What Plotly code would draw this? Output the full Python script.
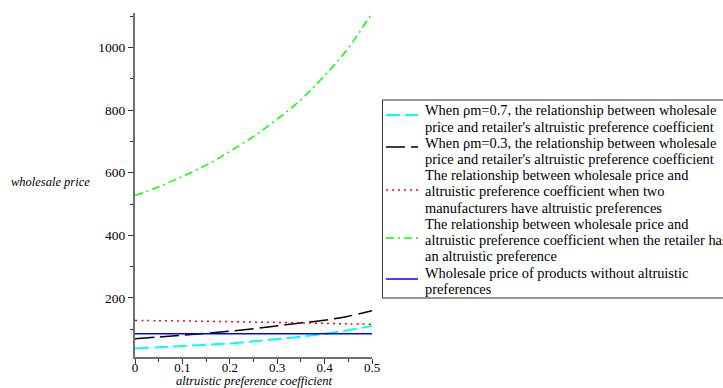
import plotly.graph_objects as go

# Altruistic preference coefficient (x) and wholesale prices for each scenario
coef = [0.0, 0.05, 0.10, 0.15, 0.20, 0.25, 0.30, 0.35, 0.40, 0.45, 0.50]
price_pm07 = [39, 42.5, 46.5, 50.5, 55, 61.5, 69, 76.5, 86, 97, 111]
price_pm03 = [70, 75.5, 81, 87, 94, 102, 111, 120.5, 129, 142, 159]
price_two_manuf = [128.5, 127.5, 126.5, 125.5, 124.5, 123, 122, 120.5, 119, 117.5, 116]
price_retailer = [527, 555, 588, 624, 668, 716, 771, 833, 910, 998, 1110]
price_no_altruism = [86, 86, 86, 86, 86, 86, 86, 86, 86, 86, 86]

x_ticks = [0, 0.1, 0.2, 0.3, 0.4, 0.5]
x_tick_text = ["0", "0.1", "0.2", "0.3", "0.4", "0.5"]
y_ticks = [200, 400, 600, 800, 1000]
y_tick_text = ["200", "400", "600", "800", "1000"]

legend_lines = [
    ["When \u03c1m=0.7, the relationship between wholesale",
     "price and retailer's altruistic preference coefficient"],
    ["When \u03c1m=0.3, the relationship between wholesale",
     "price and retailer's altruistic preference coefficient"],
    ["The relationship between wholesale price and",
     "altruistic preference coefficient when two",
     "manufacturers have altruistic preferences"],
    ["The relationship between wholesale price and",
     "altruistic preference coefficient when the retailer has",
     "an altruistic preference"],
    ["Wholesale price of products without altruistic",
     "preferences"],
]

series = [price_pm07, price_pm03, price_two_manuf, price_retailer, price_no_altruism]
colors = ["#00FFFF", "#000000", "#FF0000", "#00FF00", "#0000FF"]
dashes = ["14px,5px", "19px,6px", "2px,4px", "8px,4px,2px,4px", "solid"]
widths = [2, 1.5, 1.5, 1.5, 1.5]

SERIF = "Liberation Serif, Times New Roman, serif"
W, H = 723, 388
L, R, T, B = 135, 351, 13, 31
PW, PH = W - L - R, H - T - B


def px_x(px):
    return (px - L) / PW


def px_y(py):
    return (H - B - py) / PH


fig = go.Figure()
for vals, col, dsh, wd, lines in zip(series, colors, dashes, widths, legend_lines):
    fig.add_trace(go.Scatter(
        x=coef, y=vals, mode="lines", name=" ".join(lines),
        line=dict(color=col, dash=dsh, width=wd, shape="spline"),
        showlegend=False,
    ))

annotations = []
shapes = []

# Legend frame
shapes.append(dict(type="rect", xref="paper", yref="paper",
                   x0=px_x(382.5), x1=px_x(745), y0=px_y(100), y1=px_y(298),
                   line=dict(color="#333333", width=1), fillcolor="white", layer="above"))

# Legend text lines and symbols
symbol_y = [115, 147, 190, 238, 279]
line_y0, line_step = 110.5, 16.2
k = 0
for i, lines in enumerate(legend_lines):
    for ln in lines:
        annotations.append(dict(
            x=px_x(423), y=px_y(line_y0 + k * line_step), xref="paper", yref="paper",
            text=ln, showarrow=False, xanchor="left", yanchor="middle",
            font=dict(family=SERIF, size=14.4, color="black"),
        ))
        k += 1
    shapes.append(dict(type="line", xref="paper", yref="paper",
                       x0=px_x(386), x1=px_x(418), y0=px_y(symbol_y[i]), y1=px_y(symbol_y[i]),
                       line=dict(color=colors[i], dash=dashes[i], width=widths[i]), layer="above"))

# Axis titles
annotations.append(dict(x=px_x(50), y=px_y(182), xref="paper", yref="paper",
                        xanchor="center", yanchor="middle",
                        text="<i>wholesale price</i>", showarrow=False,
                        font=dict(family=SERIF, size=12.5, color="black")))
annotations.append(dict(x=px_x(254), y=px_y(381), xref="paper", yref="paper",
                        xanchor="center", yanchor="middle",
                        text="<i>altruistic preference coefficient</i>", showarrow=False,
                        font=dict(family=SERIF, size=12.5, color="black")))

fig.update_layout(
    width=W, height=H,
    margin=dict(l=L, r=R, t=T, b=B, autoexpand=False),
    paper_bgcolor="white", plot_bgcolor="white",
    showlegend=False,
    annotations=annotations, shapes=shapes,
    xaxis=dict(range=[0, 0.5], tickvals=x_ticks, ticktext=x_tick_text,
               showgrid=False, zeroline=False, showline=True,
               linecolor="#707070", linewidth=2,
               ticks="outside", ticklen=5, tickwidth=1, tickcolor="#333333",
               ticklabelstandoff=-8,
               minor=dict(dtick=0.05, ticks="outside", ticklen=3, tickwidth=1, tickcolor="#333333"),
               tickfont=dict(family=SERIF, size=13, color="black")),
    yaxis=dict(range=[11.6, 1109.8], tickvals=y_ticks, ticktext=y_tick_text,
               showgrid=False, zeroline=False, showline=True,
               linecolor="#707070", linewidth=2,
               ticks="outside", ticklen=5, tickwidth=1, tickcolor="#333333",
               minor=dict(tick0=100, dtick=200, ticks="outside", ticklen=3, tickwidth=1, tickcolor="#333333"),
               tickfont=dict(family=SERIF, size=13.5, color="black")),
)

fig.write_html("out.html")
